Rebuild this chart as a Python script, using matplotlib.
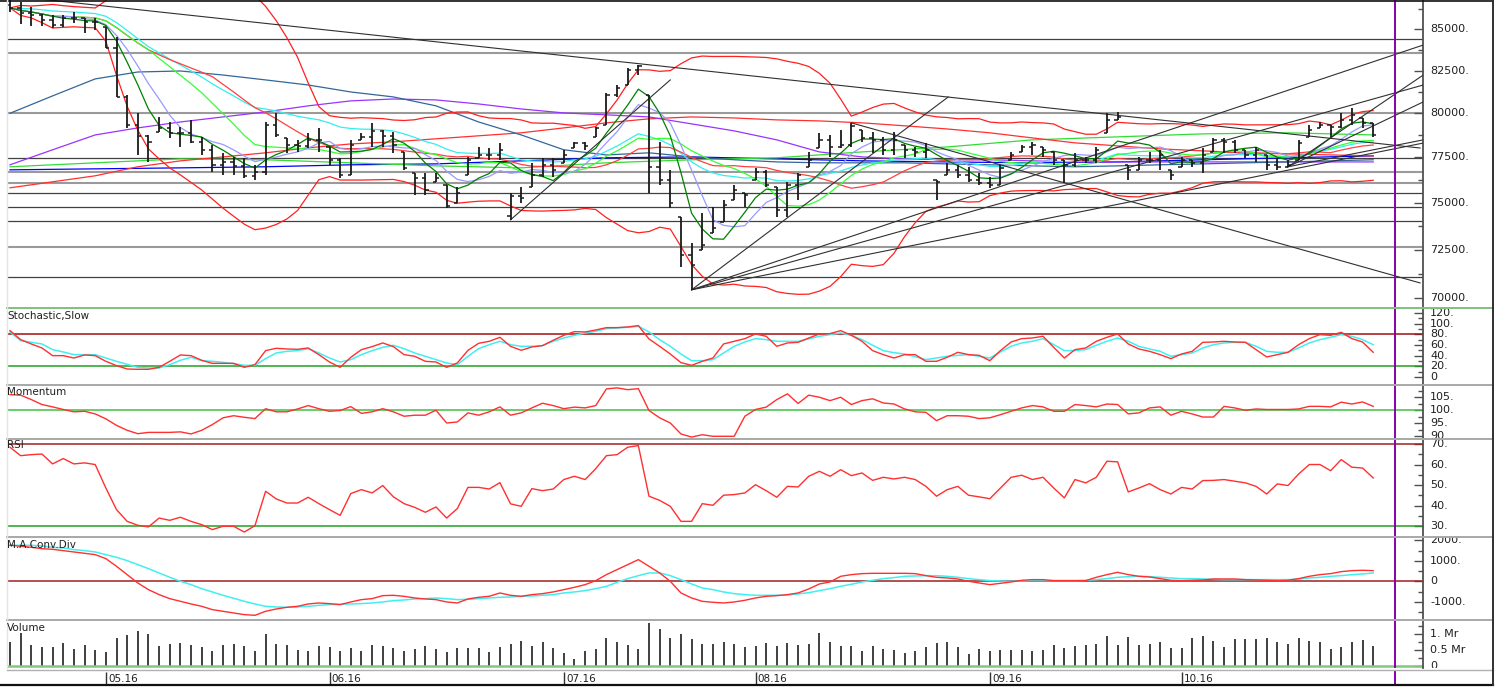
import numpy as np
import pandas as pd
import matplotlib
matplotlib.use("Agg")
import matplotlib.pyplot as plt
from matplotlib.lines import Line2D
from matplotlib.transforms import Bbox, TransformedBbox, blended_transform_factory
from matplotlib.ticker import FixedLocator, NullFormatter

plt.rcParams['font.family'] = ['DejaVu Sans']

# ---------------- data ----------------
month_labels = ["05.16", "06.16", "07.16", "08.16", "09.16", "10.16"]
month_bars = [9, 30, 52, 70, 92, 110]
cursor_bar = 130

opens = [86500, 86320, 86010, 85880, 85570, 85260, 85700, 85700, 85450, 85140,
         83860, 80950, 79330, 78710, 78930, 79160, 78880, 78880, 78370, 77920,
         77080, 77240, 77020, 76470, 76690, 79330, 78590, 78200, 78140, 78480,
         78080, 77360, 76520, 78480, 78650, 78990, 78710, 77800, 76630, 76360,
         76140, 75970, 74990, 76520, 77470, 77630, 77630, 74300, 75370, 75860,
         76520, 77080, 77190, 78030, 78310, 78650, 79330, 81070, 81650, 82540,
         81070, 76970, 76250, 74240, 72230, 72500, 73390, 73970, 75160, 75540,
         76250, 76690, 75860, 74620, 75970, 76970, 78030, 78480, 78080, 78200,
         79050, 78590, 78480, 77920, 78200, 77920, 77800, 76250, 76520, 76800,
         76520, 76250, 76080, 75970, 77360, 77800, 78080, 78080, 77800, 77360,
         77080, 77360, 77360, 78880, 79620, 77080, 76800, 77360, 77360, 76800,
         76970, 77360, 77190, 77800, 78480, 78370, 77920, 77630, 77630, 77080,
         76970, 77360, 78650, 79160, 79330, 79220, 79620, 79730, 79450]
highs = [86816, 86690, 86380, 85950, 85880, 85880, 86070, 85700, 85700, 85140,
         84530, 81070, 80020, 78760, 79790, 79500, 79220, 79620, 78650, 78200,
         77750, 77520, 77470, 77080, 79500, 80020, 78590, 78480, 78880, 79160,
         78080, 77470, 78480, 78880, 79450, 79050, 78930, 77800, 76630, 76630,
         76630, 75970, 75860, 77520, 78080, 78030, 78310, 75540, 75860, 77190,
         77470, 77470, 77920, 78370, 78370, 79220, 81180, 81650, 82660, 82840,
         81070, 78370, 76800, 74240, 72860, 74450, 74780, 75160, 75970, 75540,
         76910, 76800, 75860, 76140, 76630, 77800, 78880, 78760, 79050, 79450,
         79050, 78930, 78650, 78930, 78200, 78080, 78310, 76250, 77190, 77080,
         76970, 76630, 76410, 77080, 77800, 78200, 78370, 78080, 77800, 77360,
         77750, 77520, 78080, 80020, 80080, 77080, 77520, 77800, 77920, 76800,
         77520, 77360, 78030, 78590, 78590, 78480, 77920, 78080, 77630, 77470,
         77360, 78480, 79330, 79500, 79330, 80020, 80310, 79730, 79450]
lows = [86070, 85330, 85200, 85200, 85080, 85140, 85390, 84770, 84960, 83860,
        80950, 79160, 77630, 77240, 78930, 78590, 78080, 78310, 77630, 76690,
        76520, 76520, 76360, 76250, 76520, 78650, 77750, 77800, 78030, 77800,
        77080, 76360, 76520, 78480, 78080, 78080, 77750, 76800, 75430, 75430,
        76140, 74720, 74990, 76520, 77470, 77360, 77360, 74080, 74990, 75860,
        76410, 76410, 77190, 78030, 77920, 78650, 79330, 80950, 81650, 82240,
        75540, 75970, 74720, 71610, 70430, 72500, 73390, 73970, 75160, 74780,
        76250, 75860, 74240, 74240, 75160, 76970, 78030, 77520, 78030, 78080,
        78370, 77750, 77630, 77630, 77470, 77520, 77470, 75160, 76520, 76360,
        76140, 75970, 75810, 75970, 77360, 77800, 77630, 77520, 77080, 76080,
        76970, 77190, 77190, 78880, 79620, 76250, 76800, 77190, 76800, 76250,
        76970, 76970, 76630, 77800, 77750, 77750, 77470, 77240, 76800, 76800,
        76970, 77360, 78650, 79160, 78650, 79160, 79330, 79160, 78650]
closes = [86320, 86010, 85880, 85570, 85260, 85700, 85700, 85450, 85450, 83860,
          80950, 79330, 78710, 78360, 79160, 78880, 78880, 78370, 77920, 77080,
          77240, 77020, 76470, 76690, 79330, 78760, 78200, 78140, 78480, 78480,
          77360, 76520, 78200, 78650, 78990, 78710, 78200, 76910, 76360, 75700,
          76360, 74830, 75540, 77360, 77630, 77630, 77920, 75370, 75260, 76520,
          77080, 76800, 77630, 78310, 78140, 79160, 81070, 81480, 82540, 82780,
          76970, 76250, 74990, 72230, 71720, 72760, 73650, 74890, 75700, 75430,
          76690, 75970, 74620, 75970, 76520, 77360, 78480, 78080, 78200, 79280,
          78590, 78480, 77920, 78480, 77920, 77800, 77920, 76140, 76800, 76520,
          76250, 76080, 75970, 76910, 77630, 78080, 78200, 77920, 77360, 77080,
          77360, 77360, 77920, 79620, 79790, 76800, 77360, 77360, 77630, 76520,
          77360, 77190, 77630, 78480, 78370, 77920, 77630, 77920, 77080, 76970,
          77080, 78310, 79050, 79330, 79220, 79620, 79910, 79450, 78760]

volume_m = [0.74, 1.03, 0.67, 0.58, 0.58, 0.72, 0.54, 0.65, 0.51, 0.44,
            0.875, 0.98, 1.10, 1.0, 0.61, 0.69, 0.72, 0.65, 0.58, 0.48,
            0.65, 0.69, 0.64, 0.48, 1.0, 0.69, 0.67, 0.51, 0.48, 0.61,
            0.58, 0.46, 0.56, 0.48, 0.65, 0.64, 0.56, 0.48, 0.54, 0.64,
            0.53, 0.44, 0.56, 0.56, 0.56, 0.44, 0.59, 0.69, 0.77, 0.64,
            0.74, 0.56, 0.41, 0.22, 0.46, 0.54, 0.875, 0.74, 0.65, 0.53,
            1.34, 1.16, 0.875, 1.0, 0.84, 0.69,
            0.69, 0.74, 0.69, 0.58, 0.61, 0.72, 0.61, 0.72, 0.65, 0.69,
            1.03, 0.74, 0.64, 0.64, 0.46, 0.61, 0.53, 0.49, 0.41, 0.46,
            0.58, 0.72, 0.74, 0.58, 0.375, 0.54, 0.46, 0.51, 0.51, 0.51,
            0.46, 0.49, 0.65, 0.56, 0.61, 0.65, 0.69, 0.93, 0.65, 0.90,
            0.65, 0.69, 0.74, 0.56, 0.56, 0.875, 0.93, 0.79, 0.58, 0.84,
            0.84, 0.84, 0.875, 0.74, 0.69, 0.875, 0.77, 0.74, 0.54, 0.58,
            0.74, 0.80, 0.64]

stoch_k = [86.9, 70, 61.9, 54.4, 40, 40, 35.6, 41.3, 40, 29.4,
           21.3, 15, 14.4, 14.4, 18.1, 29.4, 41.3, 40, 31.3, 25.6,
           25.6, 25.6, 18.1, 23.1, 49.4, 53.8, 52.5, 51.9, 54.4, 41.9,
           28.1, 18.1, 36.9, 51.3, 56.9, 63.8, 56.9, 41.9, 38.8, 29.4,
           28.1, 18.1, 26.3, 50, 63.1, 66.9, 74.4, 57.5, 50, 56.3,
           58.8, 68.8, 78.1, 85, 84.4, 88.1, 92.5, 92.5, 93.8, 96.3,
           71.3, 57.5, 43.1, 26.9, 21.9, 29.4,
           35.6, 61.9, 66.9, 71.9, 80.6, 76.3, 57.5, 63.8, 65, 73.1,
           80.6, 81.3, 86.9, 78.1, 66.9, 49.4, 41.9, 35.6, 41.9, 41.9,
           29.4, 29.4, 36.9, 46.3, 41.9, 40.6, 30.6, 49.4, 65.6, 71.9,
           73.1, 76.3, 55.6, 35.6, 51.3, 54.4, 66.9, 74.4, 80.6, 61.9,
           52.5, 48.1, 41.9, 34.4, 43.1, 48.1, 65, 65.6, 66.9, 65.6,
           65, 51.3, 37.5, 41.9, 46.3, 60.6, 71.9, 79.4, 78.1, 83.8,
           71.9, 65.6, 46.3]
stoch_d = [84.4, 68.1, 65, 61.9, 51.3, 46.9, 41.9, 41.9, 41.9, 35.6,
           29.4, 23.8, 18.1, 16.9, 16.9, 23.1, 31.3, 36.9, 30.6, 29.4,
           27.5, 25, 21.9, 21.9, 34.4, 45, 48.1, 49.4, 53.1, 45,
           35.6, 28.1, 32.5, 41.9, 49.4, 55.6, 59.4, 53.1, 45, 38.8,
           32.5, 26.3, 23.1, 38.8, 53.1, 60.6, 66.9, 60.6, 57.5, 57.5,
           58.8, 66.9, 73.1, 78.1, 82.5, 85.6, 90.6, 91.9, 93.1, 95,
           84.4, 70, 57.5, 43.1, 30.6, 30.5,
           32.5, 45, 57.5, 65.6, 71.9, 70, 66.9, 66.9, 66.9, 71.3,
           76.3, 79.4, 82.5, 78.1, 70, 59.4, 49.4, 45.6, 43.1, 38.1,
           32.5, 35.6, 38.8, 40.6, 41.9, 38.8, 35.6, 46.9, 57.5, 63.8,
           66.9, 71.9, 60.6, 49.4, 49.4, 51.3, 59.4, 66.9, 73.1, 66.9,
           57.5, 52.5, 48.1, 38.8, 41.9, 45, 54.4, 60.6, 63.8, 65,
           65, 57.5, 48.1, 46.3, 46.3, 54.4, 63.8, 70, 74.4, 79.4,
           76.3, 70, 60.6]

momentum = [106.0, 105.8, 104.1, 102.2, 101.3, 100.3, 99.4, 99.6, 98.6, 96.7,
            94.2, 92.3, 91.0, 91.5, 91.5, 91.5, 91.7, 90.9, 92.3, 94.5,
            97.1, 97.9, 97.3, 96.8, 100.6, 99.4, 99.4, 100.5, 101.8, 100.6,
            99.6, 99.9, 101.4, 98.8, 99.4, 100.6, 99.4, 97.7, 98.1, 98.1,
            100, 95.1, 95.5, 99, 98.1, 99.4, 101.3, 98.1, 99, 100.9,
            102.7, 101.8, 100.6, 101.2, 100.9, 101.8, 108.2, 108.6, 107.9, 108.3,
            99.9, 97.1, 95.1, 90.9, 89.7, 90.6,
            90, 90, 90, 97.7, 100.3, 101.2, 104.1, 106.3, 102.6, 105.8,
            105, 103.7, 105, 102.2, 103.7, 104.4, 102.8, 102.4, 100.5, 99.4,
            99.2, 96, 97.9, 97.9, 97.7, 96.8, 97.1, 98.3, 99.6, 100.9,
            101.8, 101.3, 99.6, 99.6, 102.2, 101.8, 101.3, 102.4, 102.2, 98.6,
            99, 100.9, 101.3, 98.1, 99.6, 98.6, 97.4, 97.4, 101.5, 100.9,
            100, 100.5, 100.3, 100.3, 100.3, 100.5, 101.5, 101.5, 101.3, 103.1,
            102.4, 103.2, 101.5]

rsi = [68.4, 64.3, 64.8, 65.1, 60.3, 62.9, 60.3, 60.8, 60, 48.6,
       38.1, 32.4, 30.5, 29.7, 34.0, 32.9, 34.4, 32.4, 30.8, 28.4,
       30, 30, 27.2, 30.3, 47, 43.3, 41.3, 41.3, 44.1, 41,
       38.1, 35.3, 45.9, 47.8, 46.2, 49.8, 44.3, 41, 39.2, 36.8,
       39.4, 34, 38.6, 48.9, 48.9, 48.1, 51.2, 40.9, 39.7, 48.3,
       47.3, 48.1, 52.7, 54.3, 52.7, 58, 64.3, 64.8, 68.4, 69.2,
       44.6, 42.6, 39.7, 32.4, 32.4, 41,
       40.2, 45.1, 45.4, 46.2, 50.2, 47.3, 44.1, 49.4, 49.1, 54.3,
       56.7, 54.3, 57.5, 54.6, 55.9, 52.3, 53.8, 53, 53.8, 52.7,
       49.4, 44.6, 47.8, 49.4, 45.1, 44.3, 43.4, 48.6, 53.8, 54.8,
       52.7, 53.8, 48.6, 43.8, 52.7, 51.1, 53.8, 61.6, 61.3, 46.7,
       48.6, 50.7, 47.8, 45.7, 48.9, 48.1, 52.2, 52.3, 52.7, 51.9,
       51.1, 49.4, 45.7, 50.6, 49.8, 55.4, 60, 60, 57, 62.4,
       58.7, 58.3, 53.5]

macd = [1756, 1707, 1659, 1593, 1561, 1496, 1431, 1366, 1301, 1106,
        732, 325, -81, -407, -650, -846, -976, -1106, -1220, -1382,
        -1463, -1545, -1626, -1659, -1463, -1350, -1268, -1220, -1106, -1057,
        -1089, -1138, -1008, -894, -846, -699, -683, -732, -813, -862,
        -894, -1008, -1057, -862, -780, -732, -569, -683, -732, -650,
        -602, -520, -407, -293, -163, 33, 325, 569, 813, 1057,
        732, 407, 0, -569, -813, -976,
        -1024, -1057, -1008, -927, -813, -732, -699, -650, -569, -374,
        -130, -33, 244, 325, 374, 390, 390, 390, 390, 374,
        276, 195, 163, 114, 0, -81, -163, -98, -33, 49,
        81, 81, 33, 33, 33, 33, 195, 325, 439, 325,
        244, 211, 130, 49, 33, 49, 65, 114, 114, 114,
        81, 65, 49, 33, 49, 130, 244, 325, 374, 472,
        520, 537, 520]
macd_signal = [1756, 1756, 1756, 1724, 1659, 1626, 1545, 1496, 1431, 1301,
               1171, 1008, 813, 618, 407, 195, 0, -163, -358, -520,
               -683, -829, -976, -1106, -1220, -1252, -1268, -1252, -1220, -1171,
               -1138, -1122, -1106, -1089, -1057, -1008, -943, -911, -862, -846,
               -813, -846, -894, -878, -846, -813, -780, -764, -732, -715,
               -683, -650, -569, -520, -455, -358, -244, -49, 130, 276,
               407, 407, 276, 81, -130, -325,
               -407, -520, -602, -650, -683, -683, -683, -667, -618, -553,
               -455, -358, -244, -146, -33, 49, 130, 179, 244, 260,
               276, 276, 244, 195, 130, 81, 33, 16, 0, 16,
               33, 33, 33, 33, 33, 49, 81, 130, 195, 228,
               244, 228, 195, 163, 130, 130, 114, 98, 81, 81,
               81, 81, 81, 81, 81, 114, 163, 195, 244, 276,
               325, 358, 407]

# long moving averages (read every 4 / 8 bars)
ma_bars4 = list(range(0, 129, 4))
steel_ma = [80000, 81010, 82010, 82420, 82480, 82240, 81950, 81650, 81240, 80950,
            80430, 79500, 78760, 77920, 77630, 77750, 77520, 77360, 77240, 77190,
            77190, 77190, 77130, 77080, 77020, 76970, 77020, 77080, 77130, 77190,
            77240, 77300, 77360]
purple_ma = [77080, 77920, 78760, 79160, 79500, 79790, 80080, 80430, 80720, 80830,
             80775, 80540, 80250, 80020, 79910, 79790, 79390, 78990, 78480, 77800,
             77520, 77410, 77360, 77360, 77300, 77240, 77240, 77240, 77240, 77240,
             77240, 77240, 77240]
red_long_ma = [75810, 76140, 76470, 76970, 77300, 77520, 77750, 78030, 78250, 78370,
               78540, 78710, 78880, 79160, 79450, 79680, 79790, 79730, 79620, 79560,
               79450, 79280, 79100, 78880, 78590, 78310, 78140, 77970, 77860, 77750,
               77690, 77630, 77580]
ma_bars8 = list(range(0, 129, 8))
blue_ma = [76800, 76855, 76910, 76970, 77080, 77130, 77300, 77470, 77520, 77410,
           77300, 77240, 77190, 77240, 77360, 77470, 77580]
green_long_ma = [76970, 77190, 77410, 77360, 77190, 77020, 76910, 77190, 77360, 77470,
                 77800, 78080, 78480, 78650, 78820, 78880, 78760]

level_prices = [84420, 83570, 80000, 77470, 76690, 76080, 75540, 74780, 74020, 72650, 71090]
level_dark = [True, False, False, True, False, False, True, True, True, False, True]

# trend lines: (bar0, price0, bar1, price1)
trend_lines = [
    (-0.3, 87100, 132.4, 78020),
    (79, 79450, 132.4, 70780),
    (47, 74080, 62, 81950),
    (64, 70430, 88.1, 80950),
    (64, 70430, 132.7, 84040),
    (64, 70430, 132.7, 81650),
    (64, 70430, 132.7, 78300),
    (120, 76970, 132.7, 82240),
    (120, 76970, 132.7, 80660),
    (120, 76970, 132.7, 78480),
]

# ---------------- layout ----------------
W, H = 1503, 687
fig = plt.figure(figsize=(W / 100, H / 100), dpi=100)
fig.patch.set_facecolor('white')
PX0, PX1, PXR = 7, 1423, 1493
BAR0, BARW = 10.0, 10.65
XLIM = ((PX0 - BAR0) / BARW, (PX1 - BAR0) / BARW)
AXC = '#505050'


def panel(top, bot):
    ax = fig.add_axes([PX0 / W, 1 - bot / H, (PX1 - PX0) / W, (bot - top) / H])
    ax.set_xlim(*XLIM)
    for s in ['top', 'left', 'bottom']:
        ax.spines[s].set_visible(False)
    ax.spines['right'].set_color(AXC)
    ax.spines['right'].set_linewidth(1.3)
    ax.set_xticks([])
    ax.yaxis.tick_right()
    ax.tick_params(axis='y', which='major', direction='in', length=6.5, width=1.0,
                   color=AXC, labelright=False, right=True)
    ax.tick_params(axis='y', which='minor', direction='in', length=3.5, width=1.0,
                   color=AXC, right=True)
    ax.patch.set_alpha(0)
    return ax


def right_labels(ax, top, bot, vals, texts, major, minor):
    ax.yaxis.set_major_locator(FixedLocator(major))
    ax.yaxis.set_minor_locator(FixedLocator(minor))
    ax.yaxis.set_major_formatter(NullFormatter())
    ax.yaxis.set_minor_formatter(NullFormatter())
    tr = blended_transform_factory(fig.transFigure, ax.transData)
    clip = TransformedBbox(Bbox([[PX1 / W, 1 - bot / H], [PXR / W, 1 - top / H]]), fig.transFigure)
    for v, t in zip(vals, texts):
        tx = ax.text(1430 / W, v, t, transform=tr, fontsize=8, va='center', ha='left',
                     color='#202020')
        tx.set_clip_on(True)
        tx.set_clip_box(clip)


def hline_fig(y, x0, x1, color, lw):
    fig.add_artist(Line2D([x0 / W, x1 / W], [1 - y / H, 1 - y / H], transform=fig.transFigure,
                          color=color, lw=lw))


def title(y, text):
    fig.text(PX0 / W, 1 - y / H, text, fontsize=7.5, va='top', ha='left', color='#202020')


idx = np.arange(len(closes))
cl = pd.Series(closes, dtype=float)

# ---- price panel ----
axp = panel(0, 308)
axp.set_yscale('log')
axp.set_ylim(69511, 86816)
for p, dark in zip(level_prices, level_dark):
    axp.axhline(p, color='#404040' if dark else '#9a9a9a', lw=0.9 if dark else 1.5, zorder=1)

ma5 = cl.rolling(5, min_periods=1).mean()
ma7 = cl.rolling(7, min_periods=1).mean()
ma14 = cl.rolling(14, min_periods=1).mean()
ma20 = cl.rolling(20, min_periods=1).mean()
sd20 = cl.rolling(20, min_periods=1).std(ddof=0).fillna(0)
ema = cl.ewm(span=24, adjust=False).mean()

axp.plot(ma_bars8, blue_ma, color='#0000ff', lw=0.9, zorder=2)
axp.plot(ma_bars8, green_long_ma, color='#33dd33', lw=0.9, zorder=2)
axp.plot(ma_bars4, red_long_ma, color='#ff3030', lw=0.9, zorder=2)
axp.plot(ma_bars4, purple_ma, color='#9933ff', lw=0.9, zorder=2)
axp.plot(ma_bars4, steel_ma, color='#336699', lw=0.9, zorder=2)
axp.plot(idx, ma20 + 2 * sd20, color='#ff2020', lw=0.9, zorder=2)
axp.plot(idx, ma20 - 2 * sd20, color='#ff2020', lw=0.9, zorder=2)
axp.plot(idx, ema, color='#33eeee', lw=0.9, zorder=2)
axp.plot(idx, ma20, color='#ff4040', lw=0.9, zorder=2)
axp.plot(idx, ma14, color='#33ff33', lw=0.9, zorder=2)
axp.plot(idx, ma7, color='#9999ff', lw=0.9, zorder=2)
axp.plot(idx, ma5, color='#008000', lw=0.9, zorder=2)
for b0, p0, b1, p1 in trend_lines:
    axp.plot([b0, b1], [p0, p1], color='#303030', lw=0.8, zorder=3)

bar_c = '#1a1a1a'
axp.vlines(idx, lows, highs, color=bar_c, lw=1.3, zorder=4)
axp.hlines(opens, idx - 0.3, idx, color=bar_c, lw=1.1, zorder=4)
axp.hlines(closes, idx, idx + 0.3, color=bar_c, lw=1.1, zorder=4)
pt = [70000, 72500, 75000, 77500, 80000, 82500, 85000]
right_labels(axp, 0, 308, pt, ["%d." % v for v in pt], pt,
             [71250, 73750, 76250, 78750, 81250, 83750, 86250])

# ---- stochastic ----
axs = panel(308, 385)
axs.set_ylim(-15, 129.3)
axs.axhline(80, color='#a01010', lw=1.1)
axs.axhline(20, color='#20a020', lw=1.1)
axs.plot(np.arange(len(stoch_d)), stoch_d, color='#40f0f0', lw=1.1)
axs.plot(np.arange(len(stoch_k)), stoch_k, color='#ff3030', lw=1.0)
right_labels(axs, 308, 385, [0, 20, 40, 60, 80, 100, 120],
             ["0", "20.", "40.", "60.", "80.", "100.", "120."],
             [0, 20, 40, 60, 80, 100, 120], [10, 30, 50, 70, 90, 110])
title(311, "Stochastic,Slow")

# ---- momentum ----
axm = panel(385, 439)
axm.set_ylim(88.96, 109.7)
axm.axhline(100, color='#40c040', lw=1.1)
axm.plot(np.arange(len(momentum)), momentum, color='#ff3030', lw=1.0)
right_labels(axm, 385, 439, [90, 95, 100, 105], ["90.", "95.", "100.", "105."],
             [90, 95, 100, 105], [92.5, 97.5, 102.5, 107.5])
title(387, "Momentum")

# ---- RSI ----
axr = panel(439, 537)
axr.set_ylim(24.8, 72.4)
axr.axhline(70, color='#a02020', lw=1.1)
axr.axhline(30, color='#20a020', lw=1.1)
axr.plot(np.arange(len(rsi)), rsi, color='#ff3030', lw=1.0)
right_labels(axr, 439, 537, [30, 40, 50, 60, 70], ["30.", "40.", "50.", "60.", "70."],
             [30, 40, 50, 60, 70], [35, 45, 55, 65])
title(440, "RSI")

# ---- MACD ----
axd = panel(537, 620)
axd.set_ylim(-1888, 2161)
axd.axhline(0, color='#a02020', lw=1.1)
axd.plot(np.arange(len(macd_signal)), macd_signal, color='#40f0f0', lw=1.1)
axd.plot(np.arange(len(macd)), macd, color='#ff3030', lw=1.0)
right_labels(axd, 537, 620, [-1000, 0, 1000, 2000], ["-1000.", "0", "1000.", "2000."],
             [-1000, 0, 1000, 2000], [-1500, -500, 500, 1500])
title(540, "M.A.Conv.Div")

# ---- volume ----
axv = panel(620, 668)
axv.set_ylim(-0.0625, 1.4375)
axv.vlines(np.arange(len(volume_m)), 0, volume_m, color='#303030', lw=1.3)
axv.axhline(0, color='#80c880', lw=1.8)
right_labels(axv, 620, 668, [0, 0.5, 1.0], ["0", "0.5 Mr", "1. Mr"],
             [0, 0.5, 1.0], [0.25, 0.75, 1.25])
title(623, "Volume")

# ---- date strip ----
axt = fig.add_axes([PX0 / W, 1 - 685 / H, (PX1 - PX0) / W, 15 / H])
axt.set_xlim(*XLIM)
axt.set_ylim(0, 1)
axt.axis('off')
for b, lab in zip(month_bars, month_labels):
    axt.vlines(b, 0.05, 0.85, color='#303030', lw=1.0)
    axt.text(b + 0.2, 0.38, lab, fontsize=7.5, va='center', ha='left', color='#202020')

# cursor line
for a in [axp, axs, axm, axr, axd, axv, axt]:
    a.axvline(cursor_bar, color='#8800aa', lw=1.4, zorder=6)

# separators and frame
hline_fig(0.6, 0, PXR, '#101010', 1.2)
hline_fig(308, PX0, PXR, '#80c080', 1.4)
for y in [385, 439, 537, 620]:
    hline_fig(y, PX0, PXR, '#a8a8a8', 1.4)
hline_fig(670, PX0, PXR, '#b0b0b0', 1.0)
hline_fig(685, 0, PXR, '#101010', 1.6)
fig.add_artist(Line2D([PXR / W, PXR / W], [1 - 685 / H, 1], transform=fig.transFigure,
                      color='#303030', lw=1.4))
fig.add_artist(Line2D([PX0 / W, PX0 / W], [1 - 668 / H, 1], transform=fig.transFigure,
                      color='#e4e4e4', lw=1.0))

fig.savefig('out.png', dpi=100, facecolor='white')
